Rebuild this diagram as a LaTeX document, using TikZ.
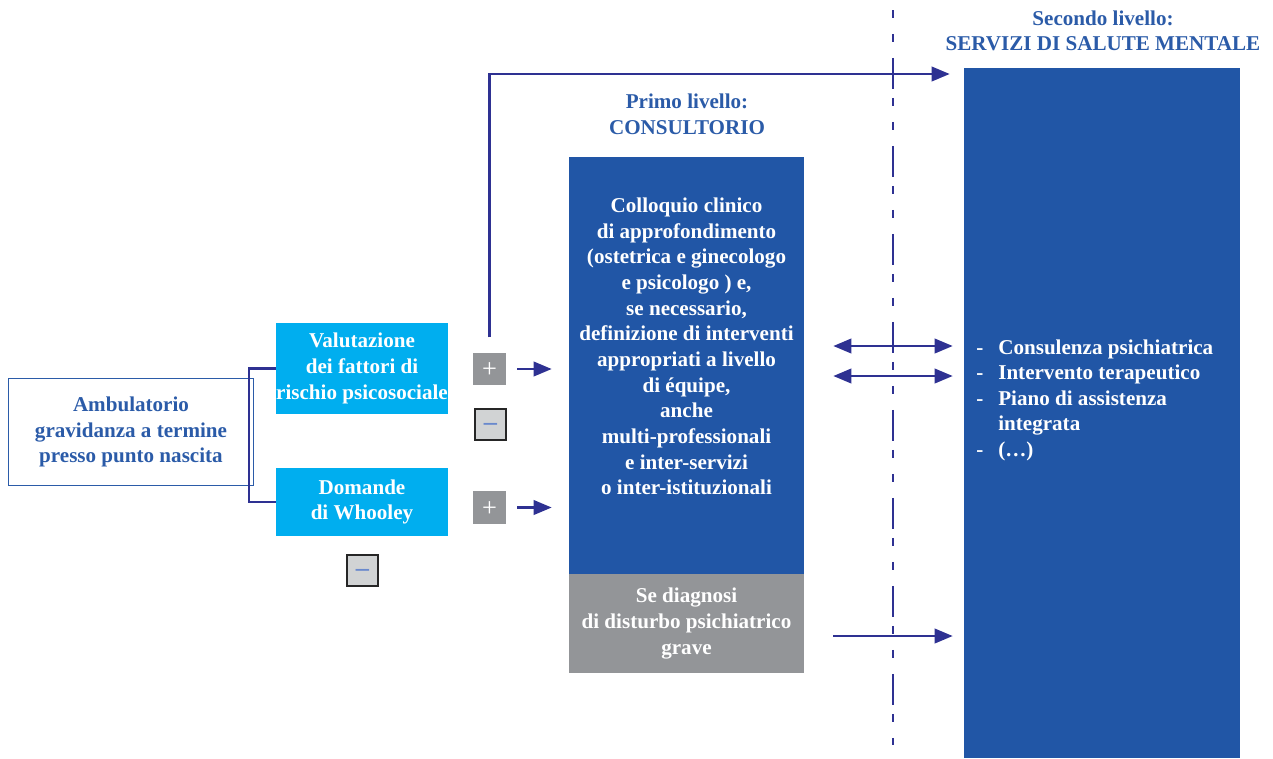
\documentclass[tikz,border=0pt]{standalone}
\usepackage{fontspec}
\setmainfont{Liberation Serif}
\usetikzlibrary{arrows.meta}

\definecolor{boxblue}{RGB}{33,86,166}
\definecolor{boxcyan}{RGB}{0,174,239}
\definecolor{boxgray}{RGB}{147,149,152}
\definecolor{signgray}{RGB}{209,211,212}
\definecolor{signblue}{RGB}{105,137,205}
\definecolor{navy}{RGB}{46,49,146}
\definecolor{titleblue}{RGB}{43,91,168}

\tikzset{
    txt/.style={font=\fontsize{12}{14.6}\selectfont\bfseries, align=center},
    box/.style={txt, text=white, inner sep=0pt},
    sign/.style={minimum size=0.65cm, inner sep=0pt, text height=0pt, text depth=0pt, font=\fontsize{15}{15}\selectfont},
    plusbox/.style={sign, fill=boxgray, text=white},
    minusbox/.style={sign, minimum size=0.62cm, fill=signgray, draw=black!85, line width=1.2pt, text=signblue},
    arr/.style={navy, line width=1.3pt},
    >={Triangle[length=0.36cm,width=0.29cm]},
}

\begin{document}
\begin{tikzpicture}[x=0.02cm, y=-0.02cm]
    \useasboundingbox (0,0) rectangle (1273,758);

    % Ambulatorio
    \node[txt, text=titleblue, draw=titleblue, line width=1.1pt, minimum width=4.9cm, minimum height=2.14cm, inner sep=0pt] (amb) at (131,432) {Ambulatorio\\gravidanza a termine\\presso punto nascita};

    % Screening
    \node[box, fill=boxcyan, minimum width=3.44cm, minimum height=1.82cm] (valut) at (362,368.5) {Valutazione\\dei fattori di\\rischio psicosociale};
    \node[box, fill=boxcyan, minimum width=3.44cm, minimum height=1.36cm] (whooley) at (362,502) {Domande\\di Whooley};
    \draw[arr] (valut.west) -- ++(-27,0) |- (whooley.west);

    % Esiti
    \node[plusbox] (plusA) at (489.5,369) {\raisebox{-0.34em}{+}};
    \node[minusbox] (minusA) at (490.5,424.5) {\raisebox{-0.24em}{\bfseries –}};
    \node[plusbox] (plusB) at (489.5,507.5) {\raisebox{-0.34em}{+}};
    \node[minusbox] (minusB) at (362.5,570.5) {\raisebox{-0.24em}{\bfseries –}};

    % Primo livello
    \node[txt, text=titleblue] (primo) at (687,114) {Primo livello:\\CONSULTORIO};
    \node[fill=boxblue, minimum width=4.7cm, minimum height=8.34cm, inner sep=0pt] (colloquio) at (686.5,365.5) {};
    \node[box] (colloquiotxt) at (686.5,346.5) {Colloquio clinico\\di approfondimento\\(ostetrica e ginecologo\\e psicologo ) e,\\se necessario,\\definizione di interventi\\appropriati a livello\\di équipe,\\anche\\multi-professionali\\e inter-servizi\\o inter-istituzionali};
    \node[box, fill=boxgray, minimum width=4.7cm, minimum height=1.98cm] (grave) at (686.5,623.5) {Se diagnosi\\di disturbo psichiatrico\\grave};

    % Secondo livello
    \node[txt, text=titleblue] (secondo) at (1103,31) {Secondo livello:\\SERVIZI DI SALUTE MENTALE};
    \node[fill=boxblue, minimum width=5.52cm, minimum height=13.8cm, inner sep=0pt] (servizi) at (1102,413) {};
    \node[txt, text=white, anchor=base west, inner sep=0pt] (servlist) at (976,354) {\begin{tabular}[t]{@{}l@{\hspace{8.5pt}}l@{}}
        -&Consulenza psichiatrica\\
        -&Intervento terapeutico\\
        -&Piano di assistenza\\
         &integrata\\
        -&(…)
    \end{tabular}};

    % Divisione tra i livelli
    \coordinate (divtop) at (893,10);
    \coordinate (divbot) at (893,745);
    \draw[navy, line width=1.4pt, dash pattern=on 0.16cm off 0.32cm on 0.16cm off 0.32cm on 0.62cm off 0.18cm] (divtop) -- (divbot);

    % Invii
    \draw[arr, ->, shorten <=0.22cm, shorten >=0.34cm] (plusA.east) -- (plusA.east -| colloquio.west);
    \draw[arr, ->, shorten <=0.22cm, shorten >=0.34cm] (plusB.east) -- (plusB.east -| colloquio.west);
    \draw[arr, ->, shorten <=0.3cm, shorten >=0.28cm] (plusA.north) |- (servizi.west |- 0,74);
    \draw[arr, <->, shorten <=0.58cm, shorten >=0.22cm] (colloquio.east |- 0,346) -- (servizi.west |- 0,346);
    \draw[arr, <->, shorten <=0.58cm, shorten >=0.22cm] (colloquio.east |- 0,376) -- (servizi.west |- 0,376);
    \draw[arr, ->, shorten <=0.58cm, shorten >=0.22cm] (grave.east |- 0,636) -- (servizi.west |- 0,636);
\end{tikzpicture}
\end{document}
